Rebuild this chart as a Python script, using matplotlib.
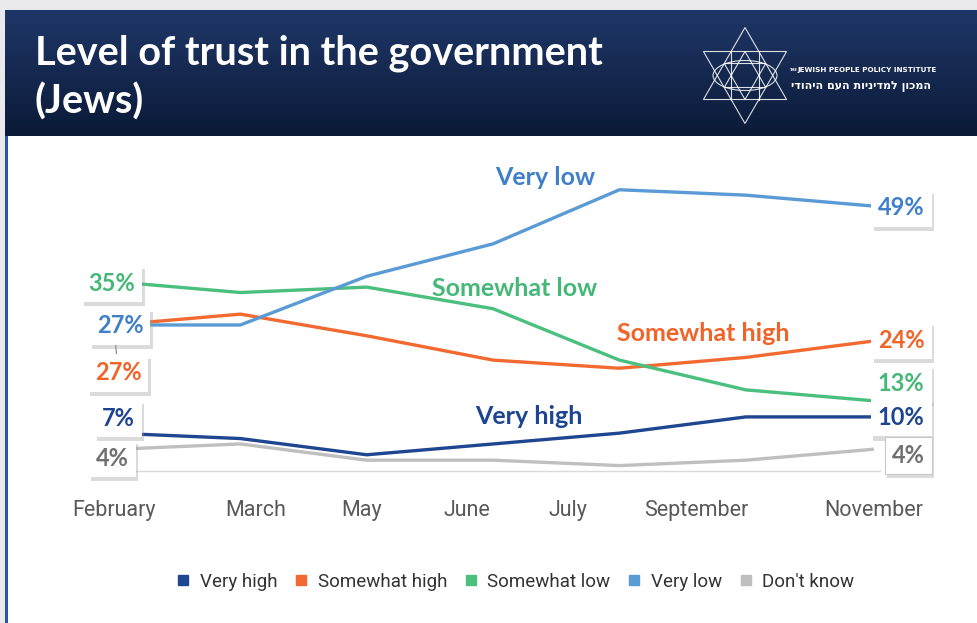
import numpy as np
import matplotlib
matplotlib.use("Agg")
import matplotlib.pyplot as plt
import matplotlib.patheffects as pe
from matplotlib.lines import Line2D
from matplotlib.patches import Ellipse, Polygon

# survey waves and trust levels (%)
months = ["February", "March", "May", "June", "July", "September", "November"]
very_high = [7, 6, 3, 5, 7, 10, 10]
somewhat_high = [27, 29, 25, 20.5, 19, 21, 24]
somewhat_low = [35, 33, 34, 30, 20.5, 15, 13]
very_low = [27, 27, 36, 42, 52, 51, 49]
dont_know = [4, 5, 2, 2, 1, 2, 4]

series_names = ["Very high", "Somewhat high", "Somewhat low", "Very low", "Don't know"]
series_values = [very_high, somewhat_high, somewhat_low, very_low, dont_know]
line_colors = ["#1f4690", "#f26a31", "#4bbf7e", "#5b9bd5", "#bfbfbf"]
text_colors = ["#1d4591", "#f0642a", "#45b878", "#3f80c8", "#707070"]

# where the month names sit along the axis (category units)
month_tick_pos = [0, 1.12, 1.96, 2.79, 3.59, 4.61, 6.01]

W, H = 977, 623
fig = plt.figure(figsize=(W / 100, H / 100), dpi=100)
fig.patch.set_facecolor("white")

# page background, header band and logo drawn in pixel coordinates
bg = fig.add_axes([0, 0, 1, 1], zorder=0)
bg.set_xlim(0, W)
bg.set_ylim(H, 0)
bg.axis("off")
bg.add_patch(plt.Rectangle((0, 0), W, 10, color="#eae9ee", lw=0))
bg.add_patch(plt.Rectangle((0, 0), 5, H, color="#eae9ee", lw=0))
bg.add_patch(plt.Rectangle((5, 136), 2.5, H - 136, color="#2857a4", lw=0))
grad = np.linspace(0, 1, 100).reshape(-1, 1)
bg.imshow(grad, extent=[5, W, 136, 10], aspect="auto",
          cmap=matplotlib.colors.LinearSegmentedColormap.from_list("hdr", ["#1f3768", "#0b1a37"]),
          zorder=1)
bg.set_xlim(0, W)
bg.set_ylim(H, 0)

title_font = "Lato"
bg.text(35, 53, "Level of trust in the government", color="white", fontsize=28.5,
        fontweight="bold", family=title_font, va="center", ha="left", zorder=3)
bg.text(35, 102, "(Jews)", color="white", fontsize=28.5, fontweight="bold",
        family=title_font, va="center", ha="left", zorder=3)

# logo: layered stars of David
lc = dict(ec="white", fc="none", lw=0.8, alpha=0.85, zorder=3)
cx, cy = 745, 75.5
for r in (48, 24):
    up = [(cx, cy - r), (cx - r * 0.866, cy + r / 2), (cx + r * 0.866, cy + r / 2)]
    dn = [(cx, cy + r), (cx - r * 0.866, cy - r / 2), (cx + r * 0.866, cy - r / 2)]
    bg.add_patch(Polygon(up, closed=True, **lc))
    bg.add_patch(Polygon(dn, closed=True, **lc))
bg.add_patch(Ellipse((cx, cy), 64, 30, **lc))
for vx in (cx - 14, cx + 14):
    bg.plot([vx, vx], [cy - 24, cy + 24], color="white", lw=0.8, alpha=0.85, zorder=3)
bg.text(790, 70, "THE", color="white", fontsize=2.5, fontweight="bold",
        va="center", ha="left", zorder=3)
bg.text(797, 70, "JEWISH PEOPLE POLICY INSTITUTE", color="white", fontsize=5.2,
        fontweight="bold", family="DejaVu Sans", va="center", ha="left", zorder=3)
hebrew = "המכון למדיניות העם היהודי"
bg.text(861, 86, hebrew[::-1], color="white", fontsize=8, fontweight="bold",
        family="DejaVu Sans", va="center", ha="center", zorder=3)

# main chart
ax = fig.add_axes([100 / W, (H - 471) / H, 780 / W, 311 / H], zorder=2)
ax.patch.set_alpha(0)
x = np.arange(len(months))
for vals, col in zip(series_values, line_colors):
    ax.plot(x, vals, color=col, lw=2.4, solid_joinstyle="round", zorder=2)

ax.set_xlim(-0.111, 6.062)
ax.set_ylim(0, 57.5)
for s in ["top", "right", "left"]:
    ax.spines[s].set_visible(False)
ax.spines["bottom"].set_color("#d9d9d9")
ax.spines["bottom"].set_linewidth(1)
ax.set_yticks([])
ax.set_xticks(month_tick_pos)
ax.set_xticklabels(months, family="Roboto", fontsize=15.5, color="#595959")
ax.tick_params(axis="x", length=0, pad=21)

shadow = [pe.SimplePatchShadow(offset=(2, -3), shadow_rgbFace="#9a9a9a", alpha=0.35),
          pe.Normal()]


def value_label(ix, series, offset, edge="none", leader=False):
    v = series_values[series][ix]
    kw = {}
    if leader:
        kw["arrowprops"] = dict(arrowstyle="-", color="#808080", lw=0.8,
                                shrinkA=0, shrinkB=0)
    t = ax.annotate(f"{v:.0f}%", xy=(ix, v), xytext=offset, textcoords="offset pixels",
                    ha="center", va="center", fontsize=17, fontweight="bold",
                    family="Lato", color=text_colors[series], zorder=5,
                    bbox=dict(boxstyle="square,pad=0.3", fc="white", ec=edge, lw=0.8),
                    annotation_clip=False, **kw)
    t.get_bbox_patch().set_path_effects(shadow)
    return t


# left end labels
value_label(0, 4, (-2, -9))
value_label(0, 1, (4, -48), leader=True)
value_label(0, 0, (4, 15))
value_label(0, 3, (6, -1))
value_label(0, 2, (-2, -2))
# right end labels
value_label(6, 3, (29, -2))
value_label(6, 1, (29, 1))
value_label(6, 2, (29, 17))
value_label(6, 0, (29, -1))
value_label(6, 4, (36, -6), edge="#c8c8c8")

# series names along the lines
name_pos = {3: (3.41, 54.2), 2: (3.17, 33.8), 1: (4.66, 25.5), 0: (3.28, 10.0)}
for si, (nx, ny) in name_pos.items():
    ax.text(nx, ny, series_names[si], color=text_colors[si], fontsize=18,
            fontweight="bold", family="Lato", ha="center", va="center", zorder=4)

handles = [Line2D([], [], marker="s", ls="none", color=c, markersize=7)
           for c in line_colors]
fig.legend(handles, series_names, loc="center", bbox_to_anchor=(0.527, 0.066),
           ncol=5, frameon=False, prop={"family": "Roboto", "size": 13.5},
           labelcolor="#333333", handlelength=0.8, handletextpad=0.5,
           columnspacing=0.85)

fig.savefig("out.png", dpi=100)
